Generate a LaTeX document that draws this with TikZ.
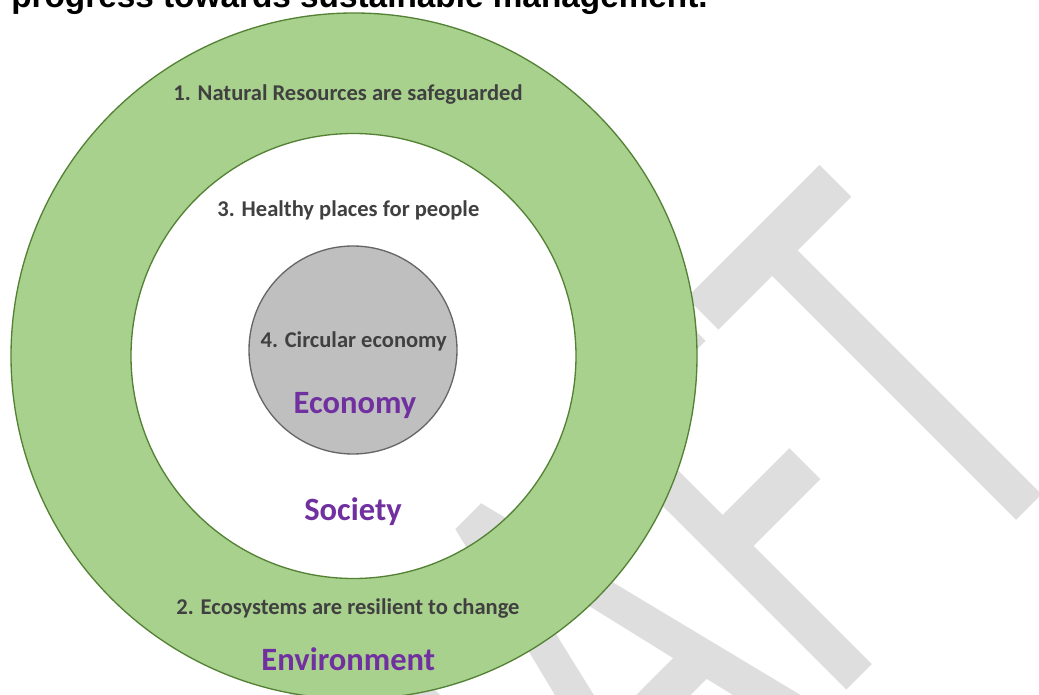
\documentclass[tikz,border=0pt]{standalone}
\usepackage{fontspec}
\newfontfamily\calf{Carlito}
\newfontfamily\arialf{Liberation Sans}
\definecolor{ringgreen}{HTML}{A9D18E}
\definecolor{ringedge}{HTML}{548235}
\definecolor{coregray}{HTML}{BFBFBF}
\definecolor{coreedge}{HTML}{666666}
\definecolor{txtdark}{HTML}{404040}
\definecolor{txtpurple}{HTML}{7030A0}
\definecolor{wmgray}{HTML}{DEDEDE}
\tikzset{
  goal/.style={anchor=base, inner sep=0pt, text=txtdark, font=\calf\bfseries\fontsize{16.9}{18}\selectfont},
  pillar/.style={anchor=base, inner sep=0pt, text=txtpurple, font=\calf\bfseries\fontsize{24.4}{26}\selectfont},
  wm/.style={anchor=base east, inner sep=0pt, transform shape, rotate=45, yscale=1.5, text=wmgray, font=\calf\fontsize{304}{304}\selectfont},
  ringline/.style={draw=ringedge, line width=1pt},
}
\begin{document}
\begin{tikzpicture}[x=0.75pt,y=-0.75pt]
\useasboundingbox (0,0) rectangle (1039,695);
\clip (0,0) rectangle (1039,695);
\fill[white] (0,0) rectangle (1039,695);
% watermark
\node[wm] (draft) at (1099,438) {DRAFT};
% environment ring
\coordinate (envc) at (354,356);
\coordinate (socc) at (353.5,356);
\fill[ringgreen, even odd rule] (envc) circle[radius=257.25pt] (socc) circle[radius=166.875pt];
\draw[ringline] (envc) circle[radius=257.25pt];
\draw[ringline] (socc) circle[radius=166.875pt];
% economy core
\node[circle, fill=coregray, draw=coreedge, line width=1pt, minimum size=156pt, inner sep=0pt] (core) at (353,350) {};
% texts
\node[goal] (g1) at (348,100.7) {1. Natural Resources are safeguarded};
\node[goal] (g3) at (348.4,216.7) {3. Healthy places for people};
\node[goal] (g4) at (353.7,347.3) {4. Circular economy};
\node[goal] (g2) at (348,614.3) {2. Ecosystems are resilient to change};
\node[pillar] (econ) at (355,413.3) {Economy};
\node[pillar] (soc) at (353,520.7) {Society};
\node[pillar] (env) at (348.3,670) {Environment};
% title
\node[anchor=base west, inner sep=0pt, font=\arialf\bfseries\fontsize{25}{27}\selectfont] (title) at (11,7.5) {progress towards sustainable management.};
\end{tikzpicture}
\end{document}
